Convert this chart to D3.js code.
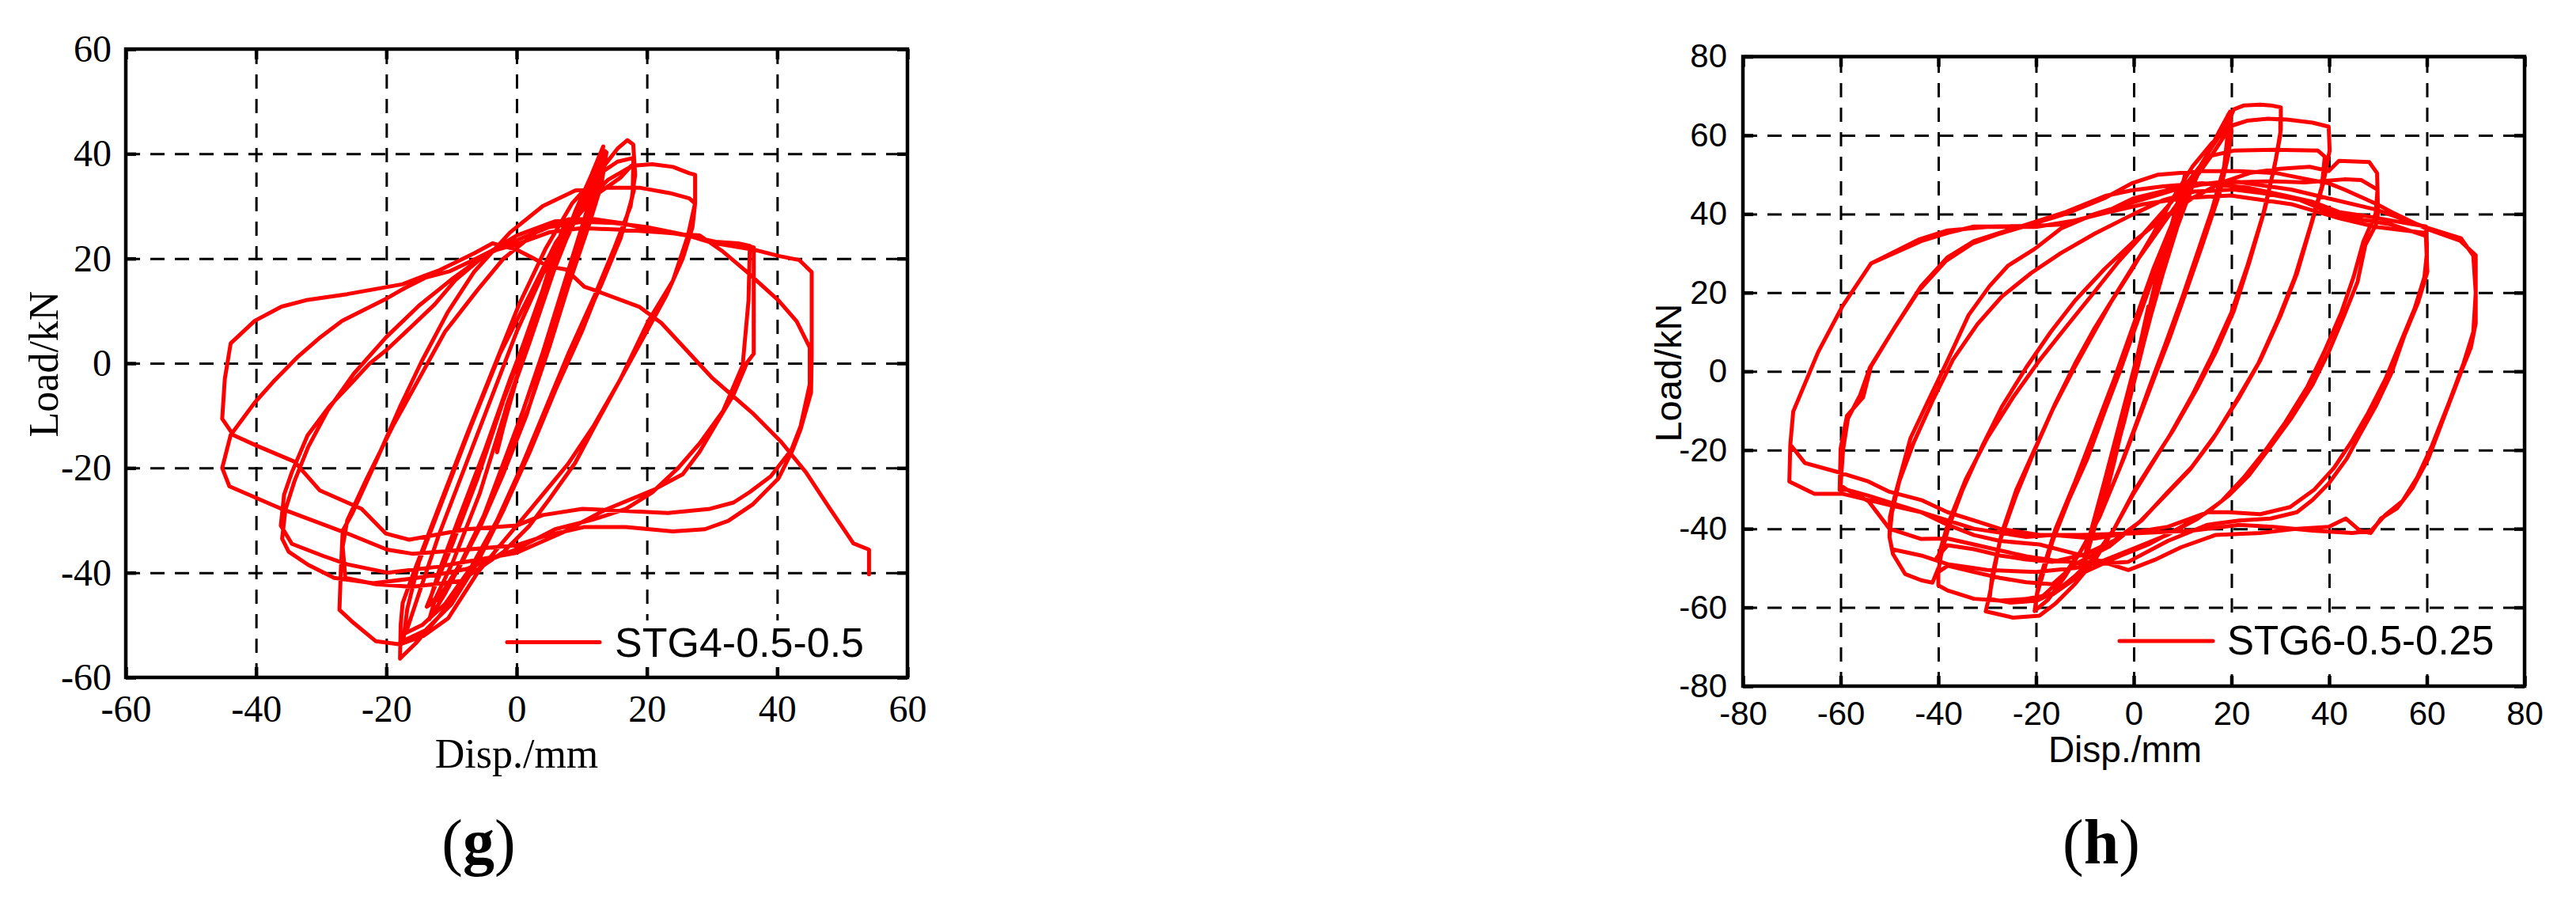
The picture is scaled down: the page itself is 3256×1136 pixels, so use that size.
<!DOCTYPE html>
<html>
<head>
<meta charset="utf-8">
<script src="https://cdn.jsdelivr.net/npm/d3@7"></script>
<style>
  body { margin: 0; background: #fff; }
</style>
</head>
<body>
<svg id="fig" width="3256" height="1136"></svg>
<script>
'use strict'

// ---- panel (g) : STG4-0.5-0.5, [disp mm, load kN], one array per amplitude level
const gSmall = [[0,0],[2,7],[4,14],[6,21],[7,25],[5.5,19],[3,9],[0.5,-1],[-1.5,-8],[-2.6,-13],[-3,-17],[-2,-12],[0,-3],[3,9],[6,21],[7.5,27],[6,22],[3,10],[0,-3],[-2,-11],[-3.2,-16],[-1.5,-9],[0.5,-1]]
const g13 = [[3,8],[6,19],[9,29],[11.5,36],[13.3,41.4],[12.5,36],[10,26],[7,14],[4,2],[1,-9],[-2,-19],[-5,-29],[-8,-37],[-11,-44],[-13.4,-48.9],[-12.5,-45],[-9.8,-38],[-5.7,-25],[-1.7,-9],[2,4],[5,15],[8,26],[11,34.5],[13.6,40.5],[12.8,35],[10.5,26],[7.5,14],[4.5,2],[1.5,-10],[-2,-21],[-5.5,-31],[-9,-39.5],[-12,-45],[-13.8,-46.5],[-12.8,-43.4],[-10,-35],[-6,-22],[-2,-7],[2,6],[5.5,17],[9,28],[12,36],[13.8,40.3],[13,34],[11,26],[8,15],[5,3],[2,-8],[-1.5,-19],[-5,-29],[-8.5,-38],[-11.5,-44],[-13.5,-46]]
const g18 = [[-12,-40],[-9,-30],[-5,-17],[-1,-3],[3,10],[7,22],[10,30],[13,37],[15.5,41],[17,42.6],[17.9,41.8],[18.2,36],[17.5,30],[15,22],[12,13],[8,2],[4,-10],[0,-22],[-4,-33],[-8,-42],[-12,-48.5],[-15.5,-53.5],[-17.9,-56.4],[-17.8,-50],[-17.5,-45.8],[-15.9,-40.3],[-11.8,-27],[-7.7,-13.8],[-2.9,1.1],[0.4,11.3],[4.5,22],[8.5,30.5],[12.5,36],[15.5,38.5],[17.9,39.2],[18,33],[16.5,26],[13.5,17],[10,6],[6,-5],[2,-17],[-2,-28],[-6,-38],[-10,-46],[-14,-51],[-17.4,-53],[-16.8,-47],[-15,-38],[-11,-25],[-7,-12],[-2.5,2],[2,13],[6,23],[10,30],[14,35],[17.9,37.8],[17.8,32],[16,24],[13,15],[9,4],[5,-8],[1,-19],[-3,-30],[-7,-39],[-11,-46],[-14.5,-50],[-17,-51.5]]
const g27 = [[-15,-44],[-12,-33],[-8,-20],[-4,-7],[0,6],[4,17],[8,26],[12,32],[16,35.5],[17.6,37.7],[20.8,38],[24,37.5],[26.5,36.3],[27.4,36],[27.4,30.6],[26.3,24.4],[24,15.8],[20.2,8],[16,-2.9],[11.9,-11.8],[7.9,-19.2],[2.2,-27.8],[-2,-34],[-6,-40],[-10.5,-48.7],[-14.2,-52],[-17.9,-53.7],[-21.6,-53.1],[-25.3,-49.3],[-27.2,-47.1],[-27,-40],[-26.7,-32],[-25.2,-28.6],[-21.5,-18.5],[-17.9,-8.3],[-14.6,0.3],[-10.6,9.7],[-6.5,17.5],[-1,25],[4,30],[9,33],[14,33.5],[19,33.5],[23.5,32.5],[26.5,31.5],[27.4,30.5],[27,26],[25.5,20],[23,13],[19.5,5],[15.5,-4],[12,-12],[9,-19],[5,-26],[2,-31],[-2,-36],[-8.6,-41.6],[-16.1,-42.7],[-21.6,-42.2],[-26.3,-41]]
const g36 = [[-26.7,-35],[-26,-30],[-23,-22],[-19,-12],[-15,-3],[-11,6],[-6,14],[-2,20],[3,25],[8,27.5],[12,27.5],[16,26.8],[20,25.6],[26.1,24.4],[30.5,23.2],[34,22.9],[36.4,22.1],[36.4,10],[36.4,1.8],[35.4,0.2],[33.3,-6],[30.9,-11],[28.1,-16.9],[25.5,-21.2],[21,-24.2],[13.6,-28],[7.1,-32.3],[0,-36.2],[-4.9,-37.3],[-12.3,-38.9],[-19.8,-40],[-26,-38.4],[-29.7,-36.8],[-34.5,-34.5],[-36.2,-31],[-35.7,-25.1],[-34.5,-20.8],[-32.1,-13.8],[-28.8,-8.3],[-25.2,-3.6],[-22.6,-0.1],[-19.9,2.6],[-15.9,7.3],[-12.6,11.2],[-9.4,15.9],[-4.5,21],[0,24.4],[5.9,27.1],[9.5,27.5],[16,26.8],[20,25.6],[26.1,24.4],[30.5,23.2],[34,22.9],[35.8,22.4],[35.6,12],[34.7,-0.4],[31.7,-9.1],[28.1,-15.3],[24.8,-20],[20.8,-24.7],[16.8,-27.8],[11.9,-29.8],[5.9,-31.7],[-0.2,-35.6],[-7.7,-39.3],[-11.8,-40.3],[-15.9,-41.1],[-22,-42],[-28,-41],[-32,-38.5],[-35,-36],[-36,-33.5]]
const g45 = [[-35.5,-28],[-34.1,-22.5],[-32,-16],[-29,-9],[-25,-2],[-20,5],[-15,11],[-10,16],[-5,20.5],[0,23.5],[5,26],[10,27],[15,26.8],[20,26],[26,24.5],[30,23],[36.4,21.7],[40.2,20.5],[43.4,19.7],[45.3,17.4],[45.3,10],[45.3,1.4],[45.2,-5.6],[43.6,-12.6],[42.4,-16.5],[40.2,-22],[36.2,-27],[32.5,-30.1],[28.9,-31.7],[24,-32.1],[16.8,-31.3],[10.3,-31.3],[4.6,-32.9],[-0.2,-34.8],[-7,-35.5],[-15.9,-36.4],[-19.9,-35.6],[-26,-32.5],[-36.1,-27.8],[-44.1,-23.5],[-45.2,-20],[-43.9,-13.7],[-40.2,-7.5],[-37.4,-3.6],[-33.7,1.1],[-30.1,5],[-26.8,8.1],[-23.6,10.1],[-19.9,12.4],[-17.1,14.4],[-13.9,16.4],[-10.2,17.6],[-6.5,19.8],[-4.1,21.3],[0.4,22.9],[5,25],[10,25.8],[16,25.5],[22,25],[28.1,24.4],[31.7,21.3],[35.4,17.4],[40.2,12],[43,8],[45,3],[45,-4],[43.6,-12],[42.2,-16.5],[39,-21.6],[35.8,-24.6],[33.3,-26.6],[29.7,-27.8],[23.2,-28.6],[10.1,-27.8],[4,-29],[0,-31],[-7.7,-31.7],[-16.5,-33.7],[-20.1,-32.5],[-23.8,-27.8],[-30.2,-24.3],[-34.1,-18.8],[-40,-15.7],[-43.5,-13.7],[-45.2,-10.6],[-44.8,-3],[-43.9,3.8],[-40.2,8.1],[-36.1,10.8],[-32.1,12.1],[-26,13.2],[-17.5,15.1],[-14.2,16.7],[-11.8,17.8],[-6.5,21],[-3.7,22.9],[0,21.7],[2.5,20.1],[4.8,18.5],[7.6,17.9],[10.4,14.6],[12.3,13.8],[18.8,10.8],[22.2,7.7],[30.1,-2.9],[36.2,-9.5],[40.6,-15],[44.4,-20.8],[47.9,-27.4],[51.7,-34.4],[54.1,-35.6],[54.1,-40.3]]

// ---- panel (h) : STG6-0.5-0.25
const hSmall = [[0,0],[1.5,8],[3,16],[2,10],[0,0],[-1.5,-9],[-3,-17],[-2,-11],[0,-1],[1.5,8],[3,16.5],[2,10],[0,0],[-1.5,-9],[-3,-17],[-2,-11],[0,-1],[3,15],[6,31],[5,25],[2,10],[-1,-6],[-4,-22],[-6,-33],[-5,-27],[-2,-12],[1,4],[4,20],[6,31],[5,24],[2,9],[-1,-7],[-4,-23],[-6,-33],[-5,-26],[-2,-11],[1,5],[4,19],[7,34],[9.5,45],[10.5,50],[9.5,43],[6,27],[2,8],[-2,-12],[-6,-30],[-9,-44],[-10.5,-51],[-9.5,-44],[-6,-28],[-2,-9],[2,10],[6,29],[9,43],[10.5,49],[9.5,42],[6,26],[2,7],[-2,-13],[-6,-31],[-9,-44],[-10.5,-50],[-9,-42],[-6,-28]]
const h20 = [[-3,-15],[0,-2],[3,12],[6,25],[9,37],[12,47],[15,55],[17.5,61],[19.7,66],[20,61],[19.4,55],[17.5,45],[14,32],[10.8,20.6],[7.5,9],[4.3,-1.3],[1.1,-11.8],[-2,-22],[-6,-34],[-10,-44],[-14,-52],[-17.5,-58],[-20.3,-60.9],[-19.8,-56.7],[-16.6,-43.1],[-13.3,-32.7],[-9.5,-22.2],[-5.8,-9.7],[-2.6,0.8],[0,10],[4,24],[8,37],[12,48],[16,57.5],[18.5,62.5],[19.3,65.2],[19.2,60],[18.5,52],[16,41],[13,30],[10,19],[6.5,7],[3.2,-4],[0,-15],[-3,-25],[-7,-37],[-11,-46],[-15,-53],[-18.5,-57],[-20,-57.8]]
const h30 = [[-19.3,-53],[-16,-40],[-12,-28],[-8,-15],[-4,-2],[0,12],[4,26],[8,38],[12,49],[16,57],[19,62.5],[20.5,66.6],[22.6,67.6],[25.9,67.8],[28,67.6],[30.1,67.1],[30.1,61.4],[29.1,54],[26.9,41.5],[23.7,27.9],[20.5,15.4],[16.8,4.9],[12.9,-4.5],[8.1,-14.9],[3.2,-24.3],[0,-30.6],[-4,-40],[-8,-48],[-12,-54],[-16,-59],[-19.3,-62.1],[-24.7,-62.6],[-30.3,-61],[-29.5,-56.7],[-27.4,-43.1],[-24.1,-31.6],[-20.3,-20.1],[-16.6,-9.7],[-12.2,0.8],[-8.5,9.1],[-4.7,17.5],[-0.4,25.8],[4,35],[8,44],[12,52],[16,58],[20,62.4],[23.2,63.7],[27.5,64.2],[30,64],[30,60],[28.8,52],[26.5,40],[23.3,27],[20,15],[16,4],[12,-6],[7.5,-16],[3,-25],[0,-31],[-4,-40],[-8,-47],[-12,-52],[-16,-56],[-19.8,-58.3],[-25.2,-58.8],[-29.5,-57.8]]
const h40 = [[-29,-52],[-27,-41],[-24,-30],[-20,-19],[-16,-8],[-12,2],[-8,11],[-4,19],[0,27],[4,34],[8,41],[12,48],[16,55],[19.9,62.4],[23.2,63.7],[27.5,64.2],[31.3,64],[36.6,63.2],[39.9,62.2],[40.1,56.1],[38.8,47.8],[36.6,38.4],[33.4,24.8],[30.1,14.3],[25.9,2.8],[21.6,-6.6],[16.8,-16],[11.9,-24.3],[7,-30.6],[1.6,-37.9],[-4,-43],[-10,-46.5],[-16.6,-48.4],[-22,-47.8],[-27.4,-46.8],[-32.7,-45.2],[-38.1,-44.2],[-40.3,-47.3],[-40,-47],[-38.1,-39],[-34.4,-27.5],[-30,-17],[-24.7,-6.6],[-19.3,2.8],[-13.9,11.2],[-8.5,19.5],[-3.1,27.9],[2,35],[7,42],[11,48],[15.1,54.6],[20.5,56.1],[28.6,56.3],[37.7,56.1],[39.1,54.6],[38.5,47],[36.2,37],[33,24],[29.5,13],[25.5,2],[21,-7.5],[16.3,-17],[11.5,-25],[6.5,-31.5],[1,-38.5],[-5,-44.5],[-12,-49],[-16.6,-54.1],[-22,-53.6],[-27.4,-52.5],[-32.7,-51],[-38.1,-49.4],[-40,-51]]
const h50 = [[-39.5,-47],[-38,-40],[-35,-30],[-31,-19],[-27,-9],[-22,1],[-17,10],[-12,18],[-6,26],[0,33],[6,39],[12,44],[18,48],[24,50.5],[30,51.5],[36,52],[39.9,50.9],[42,53.5],[48.2,53.2],[49.8,50.4],[49.9,46.2],[50,40],[49.6,37.3],[47.4,32.1],[45.8,22.7],[43.1,14.3],[39.9,4.9],[36.6,-3.4],[32.3,-11.8],[28,-19.1],[23.6,-26.4],[19.4,-31.6],[15.1,-35.8],[9,-40],[3,-44],[-3,-47],[-10,-51],[-16.6,-56.7],[-22,-57.8],[-27.4,-58.3],[-32.7,-57.8],[-38.1,-55.7],[-40,-54.4],[-40,-50],[-41.2,-53.7],[-43.5,-53.1],[-46.8,-51.5],[-49.3,-46.4],[-50,-42],[-49.9,-37],[-48.9,-31.6],[-45.7,-17],[-42.5,-8.6],[-38.1,2.8],[-33.8,14.3],[-29.5,21.7],[-25.7,26.9],[-20.3,31.1],[-14.9,36.3],[-8,40],[0,43],[8,46],[14,47.5],[20,48],[28,48.3],[35,48],[43.1,48.8],[46.6,48.6],[49.9,46.2],[49.5,40],[47,33],[45,24],[42.5,15],[39,5],[35.5,-4],[31,-13],[27,-20],[22.5,-27],[18,-33],[13,-37.5],[7,-41.5],[0,-45],[-6,-48],[-12,-50],[-20,-51],[-30,-50.5],[-38.1,-49],[-43.5,-46.8],[-49.5,-45.2],[-50,-42.1]]
const h60 = [[-49.5,-36],[-48,-28],[-45,-18],[-41,-7],[-37,3],[-32,12],[-27,19],[-21,25],[-15,30],[-8,35],[0,40],[6,43.5],[12.4,45.7],[20.5,46.2],[26.9,45.2],[33.9,43.6],[39.9,40.5],[47.4,38.4],[52.8,37.3],[59.8,34.4],[60.1,25.3],[58.2,17.5],[55.4,9.1],[52.8,-0.3],[49.6,-8.7],[46.3,-16],[43.6,-22.2],[39.9,-28.5],[36.6,-32.7],[33.4,-35.8],[28,-37.4],[21.6,-37.9],[15.1,-39],[7,-43.1],[-1.1,-48.4],[-8,-49],[-16.6,-48],[-22,-47],[-27.4,-45.5],[-32.7,-44],[-38.1,-42.5],[-43.5,-42.6],[-50,-40],[-54.3,-33],[-58.7,-30.1],[-60.2,-30.1],[-60,-19.6],[-58.7,-11.3],[-55.4,-6.6],[-53.8,1.2],[-48.9,11.2],[-43.5,21.7],[-38.1,29],[-32.7,33.1],[-27.4,35.2],[-22,37.3],[-13.9,40.5],[-5.8,44.6],[-0.4,46],[6,47],[14,47.8],[23.2,46.7],[31.2,44.6],[36.6,43.1],[42,40.5],[47.4,39.5],[59.8,36.8],[60,30],[59.5,24],[57.5,16],[54.5,7],[51.5,-2],[48,-10.5],[44.5,-18],[41,-24.5],[37,-30],[32,-34.5],[25.9,-36.3],[19.4,-35.8],[15.1,-35.8],[7,-39.5],[-1.1,-41.1],[-8,-42.5],[-16.6,-41.6],[-22,-42.1],[-27.4,-41],[-32.7,-40],[-38.1,-37.9],[-43.5,-35.8],[-48.9,-33.7],[-54.3,-31.6],[-58.7,-30.1],[-60,-29]]
const h70 = [[-59.5,-20],[-58.5,-12],[-56,-6],[-54,1],[-49,11],[-44,20.5],[-38.5,28],[-33,32.5],[-27.4,35],[-22,37],[-14,40],[-6,44],[-0.4,47.8],[5,50],[14,50.9],[21.6,50.9],[29.1,50.4],[35.6,48.8],[39.9,47.8],[43.1,46.2],[49.6,42.6],[52.8,40.5],[59.8,36.3],[66.8,33.2],[70,29.5],[70,12.2],[69,6],[67.3,0.8],[64.1,-9.7],[60.3,-22.2],[57.1,-29.6],[53.9,-34.8],[50.6,-37.4],[48.5,-41.1],[46.3,-40.5],[43.4,-37.4],[39.9,-39.5],[33.4,-40],[25.9,-41.1],[16.7,-41.6],[9.7,-44.7],[4.3,-47.9],[-1.1,-50.5],[-10,-47],[-19.3,-44],[-27.4,-43.1],[-32.7,-41.6],[-38.1,-39],[-43.5,-35.8],[-48.9,-34.3],[-54.3,-32.7],[-59.7,-31.1],[-65.4,-31.1],[-70.5,-28],[-70.3,-18.6],[-69.7,-10.2],[-64.6,4.9],[-59.7,16.4],[-53.8,27.4],[-43.5,33.1],[-38.1,35.2],[-32.7,36.8],[-29.5,36.8],[-20,37],[-15,37.3],[-11.2,38.4],[-5,41],[0,44],[10,47],[19.8,48.4],[32.2,46.2],[39.7,44],[49.6,41.1],[59.6,36.7],[67,33.8],[69.5,29.4],[70,20],[69.5,10],[67.5,2],[64.5,-8],[61,-19],[58,-27],[55,-33],[51.5,-36.5],[48.5,-40.6],[44.7,-41.1],[36.6,-40.5],[28.6,-39.5],[21.6,-39],[12,-40.5],[0,-41.2],[-11.2,-41.6],[-19.3,-41.6],[-27.4,-40],[-32.7,-37.9],[-38.1,-35.8],[-43.5,-32.7],[-50,-30.6],[-54.3,-28],[-59.7,-25.9],[-67.3,-23.3],[-70.3,-18.6],[-69.7,-10.2],[-64.6,4.9],[-59.7,16.4],[-53.8,27.4],[-44,33.5],[-38.1,35.8],[-30,36.7],[-20,36.7],[-12.6,38.2],[-5,40.5],[2,42.5],[10,44],[19.8,44.7],[32.2,42.5],[42.1,38.9],[49.6,36.7],[59.6,35.2],[60,32.6],[60,24.8]]

// tick values
const gTicks = [-60, -40, -20, 0, 20, 40, 60]
const hTicks = [-80, -60, -40, -20, 0, 20, 40, 60, 80]

const serif = "'Liberation Serif', 'Times New Roman', serif"
const sans = "'Liberation Sans', Arial, sans-serif"

const panels = [
  {
    box: { left: 159, right: 1147, top: 62, bottom: 856 },
    domain: [-60, 60],
    ticks: gTicks,
    cycles: [gSmall, g13, g18, g27, g36, g45],
    font: serif, tickFont: 48, xPad: 22, yPad: 18,
    xTitle: { text: 'Disp./mm', x: 653, y: 970, size: 52 },
    yTitle: { text: 'Load/kN', x: 73, y: 460, size: 52 },
    legend: { name: 'STG4-0.5-0.5', x1: 641, x2: 758, y: 811.5, tx: 777, ty: 830, size: 52, bg: [770, 784, 330, 66] },
    caption: { letter: 'g', x: 605, y: 1091 }
  },
  {
    box: { left: 2203, right: 3191, top: 71.5, bottom: 867 },
    domain: [-80, 80],
    ticks: hTicks,
    cycles: [hSmall, h20, h30, h40, h50, h60, h70],
    font: sans, tickFont: 42, xPad: 19, yPad: 20,
    xTitle: { text: 'Disp./mm', x: 2686, y: 963, size: 46 },
    yTitle: { text: 'Load/kN', x: 2125, y: 471, size: 47 },
    legend: { name: 'STG6-0.5-0.25', x1: 2679, x2: 2797, y: 810, tx: 2815, ty: 827, size: 51, bg: [2808, 778, 356, 74] },
    caption: { letter: 'h', x: 2656, y: 1091 }
  }
]

const svg = d3.select('#fig')
const fmt = d => String(d)

const drawPanel = p => {
  const b = p.box
  const x = d3.scaleLinear().domain(p.domain).range([b.left, b.right])
  const y = d3.scaleLinear().domain(p.domain).range([b.bottom, b.top])
  const inner = p.ticks.slice(1, -1)
  const g = svg.append('g')

  // dashed grid
  const grid = g.append('g')
  grid.append('g')
    .attr('transform', `translate(0,${b.bottom})`)
    .call(d3.axisBottom(x).tickValues(inner).tickSize(-(b.bottom - b.top)).tickFormat(''))
    .call(a => a.select('.domain').remove())
  grid.append('g')
    .attr('transform', `translate(${b.left},0)`)
    .call(d3.axisLeft(y).tickValues(inner).tickSize(-(b.right - b.left)).tickFormat(''))
    .call(a => a.select('.domain').remove())
  grid.selectAll('.tick line')
    .attr('stroke', '#000')
    .attr('stroke-width', 3)
    .attr('stroke-dasharray', '18,13')
  grid.selectAll('.tick text').remove()

  // hysteresis curve
  const pts = [].concat(...p.cycles)
  const line = d3.line().x(d => x(d[0])).y(d => y(d[1]))
  g.append('path')
    .datum(pts)
    .attr('d', line)
    .attr('fill', 'none')
    .attr('stroke', '#ff0000')
    .attr('stroke-width', 5)
    .attr('stroke-linejoin', 'round')
    .attr('stroke-linecap', 'round')

  // legend
  const lg = p.legend
  g.append('rect')
    .attr('x', lg.bg[0]).attr('y', lg.bg[1])
    .attr('width', lg.bg[2]).attr('height', lg.bg[3])
    .attr('fill', '#fff')
  g.append('line')
    .attr('x1', lg.x1).attr('x2', lg.x2)
    .attr('y1', lg.y).attr('y2', lg.y)
    .attr('stroke', '#ff0000')
    .attr('stroke-width', 5)
    .attr('stroke-linecap', 'round')
  g.append('text')
    .attr('x', lg.tx).attr('y', lg.ty)
    .attr('font-family', sans)
    .attr('font-size', lg.size)
    .text(lg.name)

  // frame
  g.append('rect')
    .attr('x', b.left).attr('y', b.top)
    .attr('width', b.right - b.left).attr('height', b.bottom - b.top)
    .attr('fill', 'none')
    .attr('stroke', '#000')
    .attr('stroke-width', 4.5)

  // inward ticks on all four sides, labels only bottom and left
  const tk = 13
  const sides = [
    { ax: d3.axisBottom(x).tickPadding(p.xPad), tr: `translate(0,${b.bottom})`, lab: true },
    { ax: d3.axisTop(x), tr: `translate(0,${b.top})`, lab: false },
    { ax: d3.axisLeft(y).tickPadding(p.yPad), tr: `translate(${b.left},0)`, lab: true },
    { ax: d3.axisRight(y), tr: `translate(${b.right},0)`, lab: false }
  ]
  sides.forEach(s => {
    const a = g.append('g')
      .attr('transform', s.tr)
      .call(s.ax.tickValues(p.ticks).tickSizeInner(-tk).tickSizeOuter(0).tickFormat(fmt))
    a.select('.domain').remove()
    a.selectAll('.tick line').attr('stroke', '#000').attr('stroke-width', 4.5)
    if (s.lab) {
      a.selectAll('.tick text')
        .attr('font-family', p.font)
        .attr('font-size', p.tickFont)
        .attr('fill', '#000')
    } else {
      a.selectAll('.tick text').remove()
    }
  })

  // axis titles
  g.append('text')
    .attr('x', p.xTitle.x).attr('y', p.xTitle.y)
    .attr('text-anchor', 'middle')
    .attr('font-family', p.font)
    .attr('font-size', p.xTitle.size)
    .text(p.xTitle.text)
  g.append('text')
    .attr('transform', `translate(${p.yTitle.x},${p.yTitle.y}) rotate(-90)`)
    .attr('text-anchor', 'middle')
    .attr('font-family', p.font)
    .attr('font-size', p.yTitle.size)
    .text(p.yTitle.text)

  // caption
  const cap = g.append('text')
    .attr('x', p.caption.x).attr('y', p.caption.y)
    .attr('text-anchor', 'middle')
    .attr('font-family', serif)
    .attr('font-size', 80)
  cap.append('tspan').text('(')
  cap.append('tspan').attr('font-weight', 'bold').text(p.caption.letter)
  cap.append('tspan').text(')')
}

panels.forEach(drawPanel)
</script>
</body>
</html>
